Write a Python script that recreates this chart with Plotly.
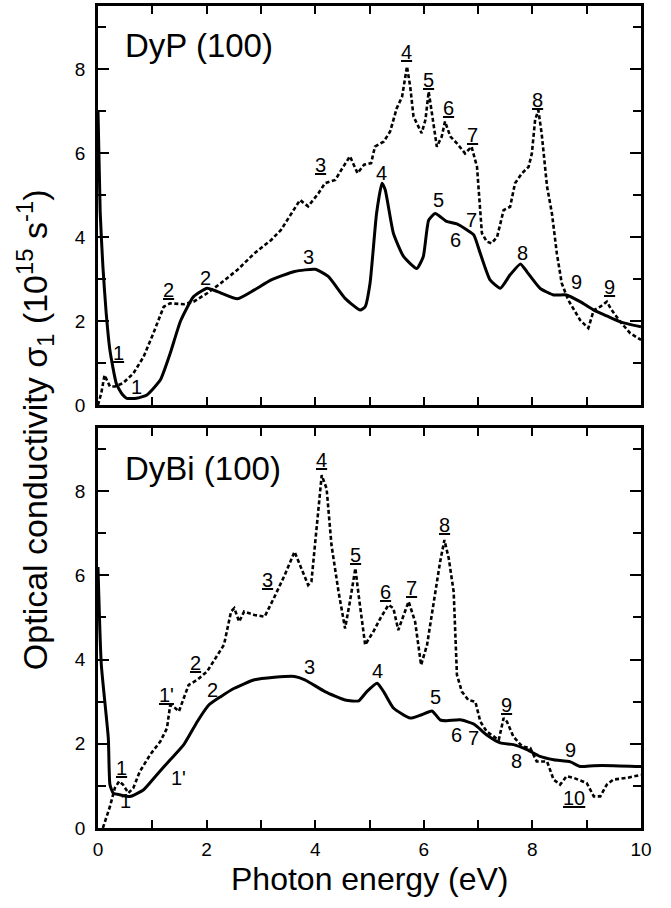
import plotly.graph_objects as go

# ---------------- DATA ----------------
# DyP (100) - solid
dyp_solid_E = [0.0, 0.04, 0.09, 0.15, 0.22, 0.34, 0.45, 0.53, 0.71, 0.9, 1.15, 1.33, 1.52, 1.76, 2.01, 2.2,
               2.57, 2.88, 3.19, 3.62, 4.0, 4.24, 4.55, 4.83, 4.92, 5.01, 5.13, 5.23, 5.29, 5.44, 5.63,
               5.87, 5.99, 6.09, 6.21, 6.42, 6.61, 6.79, 6.92, 7.04, 7.22, 7.41, 7.59, 7.78, 7.9,
               8.14, 8.39, 8.63, 8.88, 9.13, 9.37, 9.62, 10.0]
dyp_solid_s = [7.0, 4.6, 3.3, 2.2, 1.3, 0.5, 0.25, 0.16, 0.16, 0.24, 0.6, 1.23, 2.0, 2.58, 2.78, 2.7,
               2.53, 2.74, 2.98, 3.18, 3.23, 3.06, 2.54, 2.26, 2.34, 2.9, 4.56, 5.28, 5.12, 4.09, 3.53,
               3.25, 3.53, 4.4, 4.56, 4.37, 4.31, 4.17, 4.05, 3.61, 2.98, 2.78, 3.1, 3.36, 3.17,
               2.78, 2.62, 2.62, 2.46, 2.26, 2.12, 1.98, 1.86]

# DyP (100) - dotted
dyp_dash_E = [0.0, 0.06, 0.12, 0.15, 0.22, 0.31, 0.46, 0.65, 0.84, 1.02, 1.21, 1.33, 1.58, 1.76, 2.01,
              2.26, 2.57, 2.88, 3.19, 3.37, 3.56, 3.72, 3.87, 4.06, 4.18, 4.37, 4.52, 4.64, 4.78, 4.9,
              5.03, 5.1, 5.26, 5.38, 5.5, 5.6, 5.69, 5.75, 5.81, 5.96, 6.03, 6.09, 6.15, 6.24, 6.33,
              6.39, 6.49, 6.61, 6.76, 6.88, 6.98, 7.04, 7.07, 7.16, 7.25, 7.35, 7.47, 7.59, 7.68,
              7.81, 7.93, 7.99, 8.05, 8.11, 8.17, 8.27, 8.36, 8.45, 8.54, 8.66, 8.88, 9.03, 9.13,
              9.25, 9.37, 9.46, 9.62, 9.8, 10.0]
dyp_dash_s = [0.0, 0.28, 0.71, 0.64, 0.44, 0.44, 0.52, 0.75, 1.15, 1.71, 2.34, 2.42, 2.4, 2.46, 2.66,
              2.9, 3.22, 3.61, 3.93, 4.17, 4.57, 4.88, 4.73, 5.04, 5.28, 5.36, 5.68, 5.92, 5.52, 5.72,
              5.76, 6.15, 6.27, 6.51, 7.06, 7.34, 8.06, 7.58, 6.87, 6.47, 6.79, 7.46, 6.94, 6.15, 6.39,
              6.75, 6.39, 6.23, 5.99, 6.15, 5.67, 4.48, 4.09, 3.89, 3.85, 4.0, 4.64, 4.72, 5.28,
              5.52, 5.67, 5.99, 6.79, 7.02, 6.47, 5.2, 4.56, 3.61, 2.9, 2.5, 2.02, 1.83, 2.26,
              2.34, 2.46, 2.26, 1.98, 1.71, 1.55]

# DyBi (100) - solid
dybi_solid_E = [0.0, 0.06, 0.19, 0.22, 0.28, 0.4, 0.59, 0.84, 1.08, 1.33, 1.58, 1.83, 2.04, 2.26, 2.51,
                2.88, 3.25, 3.62, 3.81, 4.18, 4.55, 4.8, 4.95, 5.14, 5.26, 5.44, 5.75, 5.96, 6.15,
                6.3, 6.42, 6.67, 6.92, 7.16, 7.41, 7.65, 7.9, 8.14, 8.39, 8.7, 8.88, 9.13, 9.49, 10.0]
dybi_solid_s = [6.2, 3.9, 2.13, 1.03, 0.83, 0.79, 0.75, 0.91, 1.26, 1.62, 1.98, 2.53, 2.92, 3.12, 3.32,
                3.52, 3.58, 3.6, 3.52, 3.24, 3.04, 3.02, 3.24, 3.44, 3.24, 2.85, 2.61, 2.69, 2.78,
                2.57, 2.55, 2.57, 2.47, 2.21, 2.02, 1.98, 1.86, 1.7, 1.62, 1.57, 1.46, 1.48, 1.48, 1.46]

# DyBi (100) - dotted
dybi_dash_E = [0.09, 0.22, 0.31, 0.39, 0.46, 0.56, 0.65, 0.77, 0.96, 1.15, 1.27, 1.33, 1.42, 1.49, 1.67,
               1.83, 2.01, 2.2, 2.32, 2.45, 2.51, 2.6, 2.69, 2.88, 3.07, 3.25, 3.44, 3.62, 3.75, 3.87,
               3.93, 4.02, 4.12, 4.21, 4.3, 4.43, 4.55, 4.64, 4.74, 4.8, 4.92, 5.07, 5.2, 5.35, 5.44,
               5.53, 5.63, 5.72, 5.84, 5.95, 6.06, 6.18, 6.3, 6.38, 6.46, 6.55, 6.61, 6.7, 6.82, 6.95,
               7.04, 7.16, 7.38, 7.47, 7.53, 7.65, 7.81, 7.96, 8.08, 8.27, 8.39, 8.51, 8.63, 8.76,
               9.0, 9.13, 9.25, 9.37, 9.49, 9.74, 10.0]
dybi_dash_s = [0.0, 0.51, 0.95, 1.11, 1.03, 0.83, 0.95, 1.34, 1.74, 2.06, 2.37, 2.92, 2.85, 2.77, 3.4,
               3.52, 3.72, 4.11, 4.35, 5.14, 5.22, 4.9, 5.14, 5.06, 5.02, 5.49, 6.01, 6.56, 6.17, 5.77,
               5.85, 7.04, 8.38, 8.06, 6.72, 5.61, 4.74, 5.38, 6.17, 5.53, 4.35, 4.66, 4.98, 5.3, 5.22,
               4.7, 5.06, 5.38, 4.9, 3.87, 4.35, 5.38, 6.32, 6.84, 6.4, 5.61, 3.64, 3.24, 3.04, 3.0,
               2.53, 2.29, 2.09, 2.61, 2.53, 2.17, 1.94, 1.9, 1.58, 1.58, 1.15, 1.03, 1.23, 1.19,
               1.07, 0.75, 0.75, 1.03, 1.15, 1.19, 1.26]

# Peak labels: (text, E, sigma, underlined)
dyp_labels = [("1", 0.71, 0.42, False), ("2", 1.98, 3.02, False), ("3", 3.87, 3.53, False),
              ("4", 5.23, 5.52, False), ("5", 6.27, 4.88, False), ("6", 6.58, 3.93, False),
              ("7", 6.88, 4.4, False), ("8", 7.81, 3.61, False), ("9", 8.82, 2.94, False),
              ("1", 0.37, 1.23, True), ("2", 1.3, 2.74, True), ("3", 4.09, 5.72, True),
              ("4", 5.69, 8.41, True), ("5", 6.09, 7.74, True), ("6", 6.45, 7.06, True),
              ("7", 6.9, 6.43, True), ("8", 8.1, 7.26, True), ("9", 9.42, 2.82, True)]
dybi_labels = [("1", 0.5, 0.63, False), ("1'", 1.49, 1.19, False), ("2", 2.1, 3.28, False),
               ("3", 3.9, 3.83, False), ("4", 5.15, 3.72, False), ("5", 6.21, 3.12, False),
               ("6", 6.61, 2.21, False), ("7", 6.92, 2.13, False), ("8", 7.71, 1.58, False),
               ("9", 8.7, 1.86, False),
               ("1", 0.43, 1.42, True), ("1'", 1.27, 3.16, True), ("2", 1.8, 3.91, True),
               ("3", 3.13, 5.89, True), ("4", 4.12, 8.74, True), ("5", 4.74, 6.48, True),
               ("6", 5.29, 5.61, True), ("7", 5.77, 5.69, True), ("8", 6.39, 7.19, True),
               ("9", 7.53, 2.92, True), ("10", 8.76, 0.71, True)]

panel_titles = ["DyP (100)", "DyBi (100)"]
x_tick_vals = [0, 2, 4, 6, 8, 10]
y_tick_vals = [0, 2, 4, 6, 8]
x_title = "Photon energy (eV)"
y_title = "Optical conductivity σ<sub>1</sub> (10<sup>15</sup> s<sup>-1</sup>)"

# ---------------- FIGURE ----------------
FONT = "Liberation Sans, Arial, Helvetica, sans-serif"
fig = go.Figure()

solid_style = dict(color="black", width=3)
dash_style = dict(color="black", width=2.6, dash="4px,2.5px")

fig.add_trace(go.Scatter(x=dyp_solid_E, y=dyp_solid_s, mode="lines", line=solid_style,
                         line_shape="spline", line_smoothing=0.5, xaxis="x", yaxis="y", showlegend=False))
fig.add_trace(go.Scatter(x=dyp_dash_E, y=dyp_dash_s, mode="lines", line=dash_style,
                         xaxis="x", yaxis="y", showlegend=False))
fig.add_trace(go.Scatter(x=dybi_solid_E, y=dybi_solid_s, mode="lines", line=solid_style,
                         line_shape="spline", line_smoothing=0.5, xaxis="x2", yaxis="y2", showlegend=False))
fig.add_trace(go.Scatter(x=dybi_dash_E, y=dybi_dash_s, mode="lines", line=dash_style,
                         xaxis="x2", yaxis="y2", showlegend=False))

common_x = dict(range=[0, 10], showline=True, linecolor="black", linewidth=2.5, mirror="allticks",
                ticks="inside", ticklen=8, tickwidth=2, tickcolor="black", tickvals=x_tick_vals,
                minor=dict(dtick=1, ticklen=8, tickwidth=2, tickcolor="black", ticks="inside"),
                showgrid=False, zeroline=False, automargin=False, ticklabelstandoff=2,
                tickfont=dict(family=FONT, size=19, color="black"))
common_y = dict(range=[0, 9.5], showline=True, linecolor="black", linewidth=2.5, mirror="allticks",
                ticks="inside", ticklen=11, tickwidth=2, tickcolor="black", tickvals=y_tick_vals,
                minor=dict(dtick=1, ticklen=8, tickwidth=2, tickcolor="black", ticks="inside"),
                showgrid=False, zeroline=False, automargin=False, ticklabelstandoff=6,
                tickfont=dict(family=FONT, size=19, color="black"))

top_dom = [0.5146, 1.0]
bot_dom = [0.0, 0.4866]

annotations = []
for lbls, xr, yr in [(dyp_labels, "x", "y"), (dybi_labels, "x2", "y2")]:
    for txt, e, s, und in lbls:
        t = f"<u>{txt}</u>" if und else txt
        annotations.append(dict(x=e, y=s, xref=xr, yref=yr, text=t, showarrow=False,
                                xanchor="center", yanchor="middle",
                                font=dict(family=FONT, size=20, color="black")))

annotations.append(dict(x=0.46, y=8.55, xref="x", yref="y", text=panel_titles[0], showarrow=False,
                        xanchor="left", yanchor="middle", font=dict(family=FONT, size=33, color="black")))
annotations.append(dict(x=0.46, y=8.53, xref="x2", yref="y2", text=panel_titles[1], showarrow=False,
                        xanchor="left", yanchor="middle", font=dict(family=FONT, size=33, color="black")))
annotations.append(dict(x=-0.116, y=0.484, xref="paper", yref="paper", text=y_title, showarrow=False,
                        textangle=-90, xanchor="center", yanchor="middle",
                        font=dict(family=FONT, size=34, color="black")))
annotations.append(dict(x=0.5, y=-0.062, xref="paper", yref="paper", text=x_title, showarrow=False,
                        xanchor="center", yanchor="middle",
                        font=dict(family=FONT, size=32, color="black")))

fig.update_layout(
    template="none",
    width=671, height=908,
    margin=dict(l=98, r=30, t=6, b=80, pad=0, autoexpand=False),
    paper_bgcolor="white", plot_bgcolor="white",
    xaxis=dict(domain=[0, 1], anchor="y", showticklabels=False, **common_x),
    yaxis=dict(domain=top_dom, anchor="x", **common_y),
    xaxis2=dict(domain=[0, 1], anchor="y2", **common_x),
    yaxis2=dict(domain=bot_dom, anchor="x2", **common_y),
    annotations=annotations,
    font=dict(family=FONT, color="black"),
    showlegend=False,
)

fig.write_html("out.html", config={"displayModeBar": False},
               post_script="document.body.style.margin='0px';")
